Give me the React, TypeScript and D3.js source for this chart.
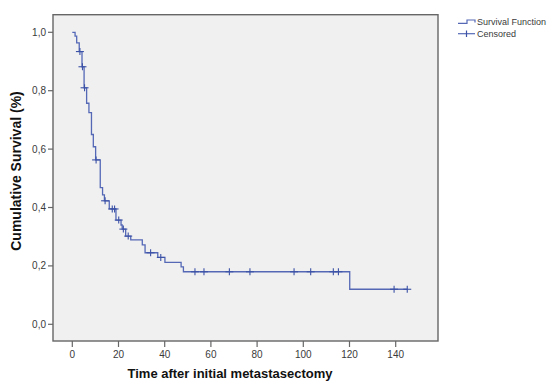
import React from "react";
import * as d3 from "d3";

// Kaplan-Meier step data (time in months, cumulative survival)
const stepTimes = [0, 1.2, 1.9, 3.0, 4.2, 5.1, 6.2, 7.2, 8.3, 9.1, 10.1, 12.1, 13.1, 13.9, 16.0, 18.9, 21.1, 21.6, 23.1, 25.3, 30.3, 31.5, 37.0, 40.1, 47.1, 48.1, 120.1];
const stepSurvival = [1.0, 0.987, 0.964, 0.934, 0.882, 0.81, 0.757, 0.725, 0.65, 0.608, 0.563, 0.468, 0.443, 0.423, 0.395, 0.357, 0.34, 0.326, 0.302, 0.289, 0.272, 0.245, 0.229, 0.212, 0.197, 0.18, 0.12];
const endTime = 145;
const censoredTimes = [3.3, 4.4, 5.3, 10.3, 14.2, 17.3, 18.3, 20.1, 22.1, 24.2, 33.9, 38.3, 53.1, 57.0, 68.0, 76.9, 96.0, 103.2, 113.0, 115.2, 139.3, 145.0];

const xTicks = [0, 20, 40, 60, 80, 100, 120, 140];
const yTicks = [0, 0.2, 0.4, 0.6, 0.8, 1.0];
const xTitle = "Time after initial metastasectomy";
const yTitle = "Cumulative Survival (%)";
const legendLabels = ["Survival Function", "Censored"];

const W = 558;
const H = 381;
const plot = { left: 53, right: 438, top: 14.7, bottom: 341 };
const lineColor = "#5468b6";
const markColor = "#3c52a6";
const axisColor = "#666666";
const labelColor = "#3a3a3a";
const font = "Arial, 'Liberation Sans', sans-serif";

export default function App() {
  const x = d3.scaleLinear().domain([0, 140]).range([72.3, 395.7]);
  const y = d3.scaleLinear().domain([0, 1]).range([324.3, 32.3]);

  const pts: [number, number][] = stepTimes.map((t, i) => [t, stepSurvival[i]]);
  pts.push([endTime, stepSurvival[stepSurvival.length - 1]]);
  const line = d3
    .line<[number, number]>()
    .x((d) => x(d[0]))
    .y((d) => y(d[1]))
    .curve(d3.curveStepAfter);

  const survAt = (t: number) => {
    const i = d3.bisectRight(stepTimes, t) - 1;
    return stepSurvival[Math.max(0, i)];
  };
  const fmt = (v: number) => v.toFixed(1).replace(".", ",");

  return (
    <svg
      width={W}
      height={H}
      style={{ position: "absolute", left: 0, top: 0, background: "#ffffff" }}
      fontFamily={font}
    >
      <rect x={0} y={0} width={W} height={H} fill="#ffffff" />
      <rect
        x={plot.left}
        y={plot.top}
        width={plot.right - plot.left}
        height={plot.bottom - plot.top}
        fill="#f0f0f0"
        stroke={axisColor}
        strokeWidth={1.4}
      />
      {/* y axis ticks */}
      {yTicks.map((v) => (
        <g key={"y" + v}>
          <line x1={plot.left - 5} x2={plot.left} y1={y(v)} y2={y(v)} stroke={axisColor} strokeWidth={1.2} />
          <text x={plot.left - 7} y={y(v) + 3.5} fontSize={10} fill={labelColor} textAnchor="end">
            {fmt(v)}
          </text>
        </g>
      ))}
      {/* x axis ticks */}
      {xTicks.map((v) => (
        <g key={"x" + v}>
          <line x1={x(v)} x2={x(v)} y1={plot.bottom} y2={plot.bottom + 6} stroke={axisColor} strokeWidth={1.2} />
          <text x={x(v)} y={357.5} fontSize={10} fill={labelColor} textAnchor="middle">
            {v}
          </text>
        </g>
      ))}
      {/* survival curve */}
      <path d={line(pts) || ""} fill="none" stroke={lineColor} strokeWidth={1.3} />
      {/* censored marks */}
      {censoredTimes.map((t, i) => {
        const cx = x(t);
        const cy = y(survAt(t));
        return (
          <g key={"c" + i} stroke={markColor} strokeWidth={1.1}>
            <line x1={cx - 4} x2={cx + 4} y1={cy} y2={cy} />
            <line x1={cx} x2={cx} y1={cy - 3.5} y2={cy + 3.5} />
          </g>
        );
      })}
      {/* axis titles */}
      <text x={230} y={377.5} fontSize={13} fontWeight="bold" fill="#111" textAnchor="middle">
        {xTitle}
      </text>
      <text
        transform={`translate(21,171) rotate(-90)`}
        fontSize={14}
        fontWeight="bold"
        fill="#111"
        textAnchor="middle"
      >
        {yTitle}
      </text>
      {/* legend */}
      <path d="M458,23.3H467V20H475V22.5" fill="none" stroke={lineColor} strokeWidth={1.2} />
      <text x={477} y={25} fontSize={9} fill={labelColor}>
        {legendLabels[0]}
      </text>
      <line x1={458} x2={475} y1={33.7} y2={33.7} stroke={lineColor} strokeWidth={1.2} />
      <line x1={466.5} x2={466.5} y1={30.5} y2={37} stroke={markColor} strokeWidth={1.2} />
      <text x={477} y={37} fontSize={9} fill={labelColor}>
        {legendLabels[1]}
      </text>
    </svg>
  );
}
